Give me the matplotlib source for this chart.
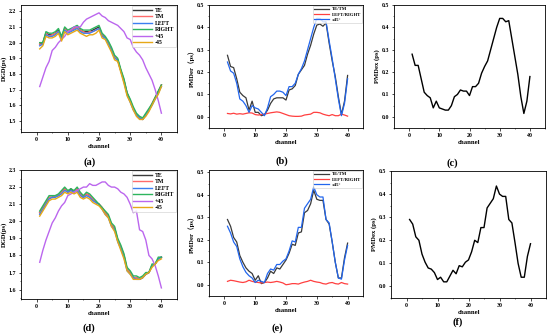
import matplotlib
matplotlib.use("Agg")
import matplotlib.pyplot as plt
from matplotlib.ticker import AutoMinorLocator

plt.rcParams['font.family'] = ['Liberation Serif', 'Noto Sans CJK SC', 'DejaVu Sans']
plt.rcParams['font.weight'] = 'bold'

channels = list(range(1, 41))

# ---- panel (a) DGD ----
a_TE = [1.99,2.00,2.06,2.05,2.05,2.06,2.08,2.03,2.09,2.07,2.08,2.09,2.10,2.08,2.07,2.07,2.07,2.08,2.09,2.10,2.05,2.03,2.00,1.96,1.91,1.89,1.82,1.76,1.68,1.63,1.58,1.54,1.52,1.51,1.54,1.57,1.61,1.65,1.69,1.73]
a_TM = [1.99,1.99,2.06,2.04,2.05,2.06,2.07,2.03,2.09,2.07,2.08,2.09,2.10,2.08,2.07,2.06,2.07,2.07,2.08,2.09,2.05,2.03,2.00,1.96,1.91,1.89,1.82,1.76,1.67,1.63,1.58,1.54,1.52,1.51,1.54,1.57,1.61,1.65,1.68,1.73]
a_LEFT = [1.98,1.99,2.05,2.04,2.04,2.05,2.07,2.02,2.08,2.06,2.07,2.08,2.09,2.07,2.06,2.06,2.06,2.07,2.08,2.09,2.04,2.03,1.99,1.95,1.90,1.89,1.82,1.75,1.67,1.62,1.57,1.54,1.52,1.51,1.54,1.57,1.60,1.64,1.68,1.72]
a_RIGHT = [2.00,2.00,2.07,2.06,2.06,2.07,2.09,2.04,2.10,2.08,2.09,2.10,2.11,2.09,2.08,2.08,2.08,2.09,2.10,2.11,2.06,2.04,2.01,1.97,1.92,1.90,1.83,1.77,1.68,1.64,1.59,1.55,1.53,1.52,1.55,1.58,1.61,1.65,1.69,1.73]
a_P45 = [1.72,1.78,1.84,1.88,1.95,1.97,2.00,2.02,2.04,2.07,2.08,2.10,2.10,2.10,2.13,2.15,2.16,2.17,2.18,2.19,2.17,2.16,2.14,2.13,2.12,2.11,2.09,2.07,2.03,2.02,1.97,1.94,1.92,1.89,1.84,1.80,1.76,1.70,1.63,1.55]
a_M45 = [1.96,1.98,2.04,2.03,2.03,2.04,2.06,2.01,2.07,2.05,2.06,2.07,2.08,2.06,2.05,2.04,2.05,2.05,2.06,2.08,2.03,2.02,1.98,1.94,1.89,1.88,1.81,1.74,1.66,1.62,1.57,1.53,1.51,1.51,1.53,1.56,1.60,1.64,1.67,1.72]

# ---- panel (b) PMDer ----
b_TETM = [0.275,0.225,0.22,0.17,0.11,0.095,0.085,0.03,0.07,0.02,0.02,0.005,0.01,0.03,0.06,0.08,0.085,0.085,0.085,0.075,0.12,0.125,0.14,0.19,0.21,0.23,0.28,0.32,0.37,0.41,0.415,0.405,0.42,0.33,0.25,0.18,0.09,0.01,0.07,0.185]
b_LR = [0.015,0.013,0.016,0.012,0.014,0.012,0.015,0.018,0.017,0.010,0.008,0.010,0.012,0.015,0.018,0.020,0.022,0.020,0.015,0.010,0.005,0.003,0.002,0.002,0.003,0.008,0.010,0.012,0.020,0.020,0.018,0.012,0.008,0.005,0.010,0.005,0.005,0.012,0.008,0.003]
b_45 = [0.245,0.205,0.195,0.15,0.08,0.07,0.05,0.02,0.05,0.04,0.035,0.02,0.005,0.04,0.09,0.10,0.115,0.115,0.11,0.095,0.135,0.135,0.15,0.19,0.215,0.25,0.30,0.35,0.40,0.44,0.44,0.425,0.425,0.34,0.26,0.17,0.08,0.005,0.06,0.17]

# ---- panel (c) PMDex ----
c_PMDex = [0.28,0.23,0.23,0.17,0.11,0.095,0.085,0.04,0.07,0.04,0.035,0.03,0.03,0.05,0.09,0.10,0.12,0.115,0.115,0.095,0.135,0.135,0.15,0.195,0.225,0.25,0.30,0.35,0.40,0.44,0.44,0.425,0.43,0.35,0.27,0.19,0.09,0.015,0.07,0.18]

# ---- panel (d) DGD ----
d_TE = [2.05,2.08,2.11,2.14,2.14,2.15,2.15,2.17,2.19,2.17,2.19,2.17,2.19,2.16,2.14,2.16,2.15,2.13,2.11,2.10,2.08,2.05,2.03,1.98,1.96,1.89,1.85,1.80,1.72,1.70,1.67,1.67,1.66,1.67,1.69,1.70,1.74,1.75,1.78,1.79]
d_TM = [2.05,2.08,2.11,2.14,2.14,2.15,2.15,2.17,2.19,2.17,2.18,2.17,2.19,2.16,2.14,2.16,2.15,2.13,2.11,2.10,2.08,2.05,2.03,1.98,1.96,1.89,1.85,1.80,1.72,1.70,1.67,1.67,1.66,1.67,1.69,1.70,1.74,1.75,1.78,1.79]
d_LEFT = [2.04,2.07,2.10,2.13,2.14,2.14,2.15,2.16,2.18,2.17,2.18,2.17,2.18,2.15,2.14,2.15,2.14,2.12,2.11,2.10,2.07,2.04,2.02,1.97,1.95,1.88,1.84,1.79,1.71,1.69,1.67,1.66,1.66,1.67,1.69,1.70,1.74,1.75,1.78,1.79]
d_RIGHT = [2.06,2.09,2.12,2.15,2.15,2.15,2.16,2.18,2.20,2.18,2.19,2.18,2.20,2.17,2.15,2.17,2.16,2.14,2.12,2.10,2.08,2.06,2.04,1.99,1.97,1.90,1.86,1.81,1.73,1.71,1.68,1.68,1.67,1.68,1.70,1.70,1.75,1.75,1.79,1.79]
d_P45 = [1.76,1.83,1.89,1.94,1.99,2.02,2.06,2.09,2.11,2.15,2.16,2.17,2.18,2.19,2.20,2.20,2.22,2.21,2.21,2.22,2.23,2.23,2.21,2.20,2.20,2.19,2.17,2.16,2.14,2.10,2.05,2.06,1.95,1.94,1.89,1.80,1.78,1.74,1.68,1.61]
d_M45 = [2.03,2.06,2.09,2.12,2.13,2.13,2.14,2.15,2.17,2.16,2.17,2.16,2.17,2.14,2.13,2.14,2.13,2.11,2.10,2.09,2.07,2.04,2.02,1.97,1.94,1.88,1.83,1.78,1.71,1.69,1.66,1.66,1.66,1.67,1.69,1.70,1.73,1.75,1.77,1.78]

# ---- panel (e) PMDer ----
e_TETM = [0.29,0.26,0.21,0.19,0.13,0.10,0.075,0.06,0.05,0.02,0.04,0.005,0.01,0.03,0.06,0.05,0.075,0.07,0.09,0.11,0.14,0.18,0.175,0.23,0.235,0.32,0.33,0.36,0.42,0.38,0.375,0.375,0.29,0.27,0.19,0.10,0.03,0.03,0.12,0.185]
e_LR = [0.015,0.020,0.018,0.015,0.012,0.010,0.013,0.020,0.015,0.012,0.010,0.008,0.010,0.012,0.010,0.012,0.015,0.012,0.008,0.000,0.002,0.005,0.005,0.003,0.008,0.012,0.015,0.020,0.015,0.012,0.010,0.005,0.003,0.008,0.010,0.005,0.003,0.010,0.005,0.003]
e_45 = [0.26,0.23,0.19,0.17,0.115,0.08,0.055,0.04,0.03,0.01,0.02,0.015,0.01,0.05,0.07,0.065,0.09,0.09,0.105,0.115,0.15,0.195,0.19,0.255,0.255,0.34,0.36,0.38,0.435,0.40,0.39,0.39,0.29,0.275,0.19,0.10,0.03,0.025,0.11,0.175]

# ---- panel (f) PMDex ----
f_PMDex = [0.29,0.27,0.215,0.20,0.14,0.105,0.08,0.075,0.06,0.03,0.04,0.02,0.02,0.045,0.07,0.055,0.09,0.085,0.105,0.115,0.15,0.20,0.19,0.255,0.255,0.34,0.36,0.38,0.435,0.40,0.39,0.39,0.29,0.275,0.19,0.10,0.04,0.04,0.13,0.185]

dgd_labels = ['TE', 'TM', 'LEFT', 'RIGHT', '+45', '-45']
dgd_colors = ['#3a3a3a', '#ff6b6b', '#3c7ff0', '#2db55d', '#bb66ee', '#e6a817']
pmd_labels = ['TE/TM', 'LEFT/RIGHT', '±45°']
pmd_colors = ['#3a3a3a', '#ff4040', '#2266ee']

W, H = 550, 335
fig = plt.figure(figsize=(W / 100, H / 100), dpi=100)

def add_ax(l, r, t, b):
    return fig.add_axes([l / W, 1 - b / H, (r - l) / W, (b - t) / H])

def style(ax, ylabel, ylim, yticks):
    ax.set_xlim(-5, 45)
    ax.set_xticks([0, 10, 20, 30, 40])
    ax.set_ylim(*ylim)
    ax.set_yticks(yticks)
    ax.xaxis.set_minor_locator(AutoMinorLocator(2))
    ax.yaxis.set_minor_locator(AutoMinorLocator(2))
    ax.tick_params(which='major', labelsize=4.2, length=1.8, width=0.5, pad=1.5)
    ax.tick_params(which='minor', length=1.0, width=0.4)
    for lab in ax.get_xticklabels() + ax.get_yticklabels():
        lab.set_fontweight('bold')
    for s in ax.spines.values():
        s.set_linewidth(0.6)
    ax.set_xlabel('channel', fontsize=4.8, fontweight='bold', labelpad=2)
    ax.set_ylabel(ylabel, fontsize=4.8, fontweight='bold', labelpad=1.5)

def dgd_panel(ax, series):
    for vals, lab, col in zip(series, dgd_labels, dgd_colors):
        ax.plot(channels, vals, color=col, lw=1.0, label=lab)
    leg = ax.legend(loc='upper right', fontsize=4.2, frameon=True, fancybox=False,
                    edgecolor='#cccccc', handlelength=3.2, borderpad=0.3,
                    labelspacing=0.25, handletextpad=0.5, borderaxespad=0.15)
    leg.get_frame().set_linewidth(0.5)

def pmd_panel(ax, series):
    for vals, lab, col in zip(series, pmd_labels, pmd_colors):
        ax.plot(channels, vals, color=col, lw=0.9, label=lab)
    leg = ax.legend(loc='upper right', fontsize=3.4, frameon=True, fancybox=False,
                    edgecolor='#cccccc', handlelength=3.2, borderpad=0.3,
                    labelspacing=0.2, handletextpad=0.5, borderaxespad=0.15)
    leg.get_frame().set_linewidth(0.5)

# Top row
ax_a = add_ax(21, 177, 5, 132)
dgd_panel(ax_a, [a_TE, a_TM, a_LEFT, a_RIGHT, a_P45, a_M45])
style(ax_a, 'DGD(ps)', (1.43, 2.24), [1.5, 1.6, 1.7, 1.8, 1.9, 2.0, 2.1, 2.2])

ax_b = add_ax(209, 363, 5, 128)
pmd_panel(ax_b, [b_TETM, b_LR, b_45])
style(ax_b, 'PMDer（ps）', (-0.05, 0.5), [0.0, 0.1, 0.2, 0.3, 0.4, 0.5])

ax_c = add_ax(394, 545, 5, 128)
ax_c.plot(channels, c_PMDex, color='black', lw=1.0)
style(ax_c, 'PMDex (ps)', (-0.05, 0.5), [0.0, 0.1, 0.2, 0.3, 0.4, 0.5])

# Bottom row
ax_d = add_ax(21, 177, 170, 299)
dgd_panel(ax_d, [d_TE, d_TM, d_LEFT, d_RIGHT, d_P45, d_M45])
style(ax_d, 'DGD(ps)', (1.545, 2.3), [1.6, 1.7, 1.8, 1.9, 2.0, 2.1, 2.2, 2.3])

ax_e = add_ax(209, 363, 170, 296)
pmd_panel(ax_e, [e_TETM, e_LR, e_45])
style(ax_e, 'PMDer（ps）', (-0.05, 0.51), [0.0, 0.1, 0.2, 0.3, 0.4, 0.5])

ax_f = add_ax(391, 546, 171, 298)
ax_f.plot(channels, f_PMDex, color='black', lw=1.0)
style(ax_f, 'PMDex (ps)', (-0.05, 0.5), [0.0, 0.1, 0.2, 0.3, 0.4, 0.5])

# Panel labels
for txt, x, y in [('(a)', 90, 162), ('(b)', 282, 161), ('(c)', 452, 163),
                  ('(d)', 89, 328), ('(e)', 277, 328), ('(f)', 458, 322)]:
    fig.text(x / W, 1 - y / H, txt, ha='center', va='center', fontsize=7.5)

fig.savefig('out.png', dpi=100, facecolor='white')
